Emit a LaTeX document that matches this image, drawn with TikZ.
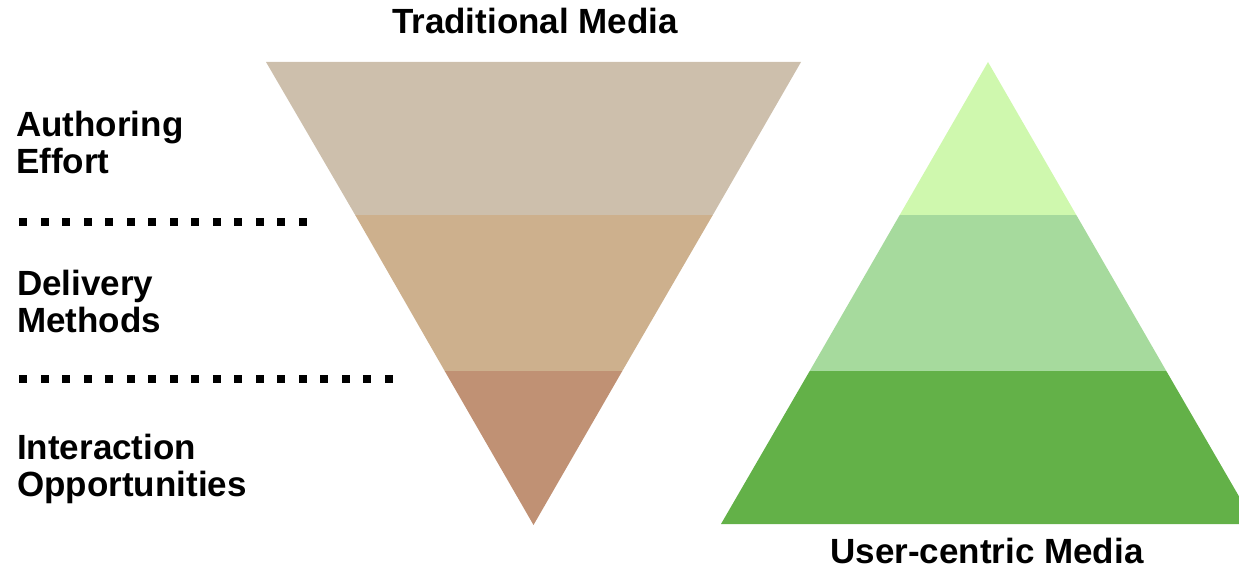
\documentclass[tikz,border=0pt]{standalone}
\usepackage{fontspec}
\setmainfont{Liberation Sans}
\definecolor{tanA}{HTML}{CDBFAC}
\definecolor{tanB}{HTML}{CDB08D}
\definecolor{tanC}{HTML}{C09174}
\definecolor{grnA}{HTML}{CFF8AE}
\definecolor{grnB}{HTML}{A6DA9D}
\definecolor{grnC}{HTML}{63B148}
\tikzset{
  lbl/.style={font=\fontsize{35}{37}\selectfont\bfseries, inner sep=0pt, align=left},
  ttl/.style={font=\fontsize{35}{37}\selectfont\bfseries, inner sep=0pt},
  dotsq/.style={fill=black, draw=none}
}
\begin{document}
\begin{tikzpicture}[x=1pt,y=-1pt]
\useasboundingbox (0,0) rectangle (1239,578);
% inverted triangle (traditional media)
\fill[tanA] (266,62) -- (801,62) -- (712.8,215) -- (355.2,215) -- cycle;
\fill[tanB] (355.2,215) -- (712.8,215) -- (622.3,371) -- (444.7,371) -- cycle;
\fill[tanC] (444.7,371) -- (622.3,371) -- (533.5,525) -- cycle;
% upright triangle (user-centric media)
\begin{scope}
\clip (0,0) rectangle (1239,578);
\fill[grnA] (988,62) -- (1076.3,215) -- (899.7,215) -- cycle;
\fill[grnB] (899.7,215) -- (1076.3,215) -- (1166.3,371) -- (809.7,371) -- cycle;
\fill[grnC] (809.7,371) -- (1166.3,371) -- (1255,524) -- (721,524) -- cycle;
\end{scope}
% dotted separators
\foreach \i in {0,...,13} { \fill[dotsq] ({19+21.5*\i},218) rectangle ++(8,8); }
\foreach \i in {0,...,17} { \fill[dotsq] ({19+21.5*\i},375) rectangle ++(8,8); }
% titles
\node[ttl, anchor=base] (trad) at (535,34) {Traditional Media};
\node[ttl, anchor=base] (user) at (987,563) {User-centric Media};
% left labels
\node[lbl, anchor=north west] (auth) at (16,111) {Authoring\\Effort};
\node[lbl, anchor=north west] (deliv) at (17,270) {Delivery\\Methods};
\node[lbl, anchor=north west] (inter) at (17,434) {Interaction\\Opportunities};
\end{tikzpicture}
\end{document}
